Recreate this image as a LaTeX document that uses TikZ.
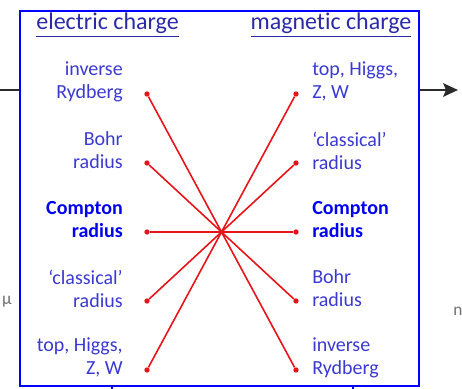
\documentclass[tikz,border=0pt]{standalone}
\usepackage{fontspec}
\setmainfont[Ligatures=NoCommon]{Carlito}
\usetikzlibrary{arrows.meta}
\definecolor{frameblue}{HTML}{0000FF}
\definecolor{ttlblue}{HTML}{2A2AA8}
\definecolor{itemblue}{HTML}{3A3AD2}
\definecolor{boldblue}{HTML}{0000EE}
\definecolor{linkred}{HTML}{E8141B}
\definecolor{arrgray}{HTML}{2B2B2B}
\definecolor{sidegray}{HTML}{707070}

\begin{document}
\begin{tikzpicture}[
  x=0.75pt,y=-0.75pt,>=Stealth,
  ttl/.style={font=\fontsize{18}{21}\selectfont, text=ttlblue, inner sep=0pt},
  litem/.style={font=\fontsize{15}{17.3}\selectfont, text=itemblue, align=right, anchor=east, inner sep=0pt},
  ritem/.style={font=\fontsize{15}{17.3}\selectfont, text=itemblue, align=left, anchor=west, inner sep=0pt},
  bitem/.style={font=\fontsize{15}{17.3}\selectfont\bfseries, text=boldblue},
  rdot/.style={circle, fill=linkred, inner sep=0pt, minimum size=4pt},
  link/.style={line width=1.2pt, color=linkred},
  chargebox/.style={draw=frameblue, line width=1.5pt, minimum width=299.25pt, minimum height=281.25pt, inner sep=0pt},
  sidetxt/.style={font=\fontsize{13}{15}\selectfont, text=sidegray, inner sep=0pt},
  sidearr/.style={line width=2.2pt, color=arrgray},
]
\useasboundingbox (0,0) rectangle (462,389);
% frame and the two column titles
\node[chargebox] (box) at (219.5,198.5) {};
\node[ttl] (ectitle) at (107.5,25) {\underline{electric charge}};
\node[ttl] (mctitle) at (331,25) {\underline{magnetic charge}};
% electric side
\node[litem] (lryd) at (123,81.5) {inverse\\Rydberg};
\node[litem] (lbohr) at (123,150.5) {Bohr\\radius};
\node[litem,bitem] (lcomp) at (123,219.5) {Compton\\radius};
\node[litem] (lclass) at (123,288.5) {‘classical’\\radius};
\node[litem] (ltop) at (123,357.5) {top, Higgs,\\Z, W};
% magnetic side
\node[ritem] (rtop) at (312,81.5) {top, Higgs,\\Z, W};
\node[ritem] (rclass) at (312,150.5) {‘classical’\\radius};
\node[ritem,bitem] (rcomp) at (312,219.5) {Compton\\radius};
\node[ritem] (rbohr) at (312,288.5) {Bohr\\radius};
\node[ritem] (rryd) at (312,357.5) {inverse\\Rydberg};
% end points
\node[rdot] (lrydd) at (147,94) {};\node[rdot] (lbohrd) at (147,163) {};\node[rdot] (lcompd) at (147,232) {};\node[rdot] (lclassd) at (147,301) {};\node[rdot] (ltopd) at (147,370) {};
\node[rdot] (rtopd) at (296,94) {};\node[rdot] (rclassd) at (296,163) {};\node[rdot] (rcompd) at (296,232) {};\node[rdot] (rbohrd) at (296,301) {};\node[rdot] (rrydd) at (296,370) {};
\draw[link] (lrydd)--(rrydd); \draw[link] (lbohrd)--(rbohrd); \draw[link] (lcompd)--(rcompd); \draw[link] (lclassd)--(rclassd); \draw[link] (ltopd)--(rtopd);
% in and out
\coordinate (inl) at (0,90); \coordinate (outr) at (458,90);
\draw[sidearr] (inl) -- (inl -| box.west);
\draw[sidearr,-{Stealth[length=11pt,width=10pt,inset=2pt]}] (outr -| box.east) -- (outr);
\coordinate (dl) at (112,390); \coordinate (dr) at (353,390);
\draw[line width=1.5pt,frameblue] (dl |- box.south) -- (dl);
\draw[line width=1.5pt,frameblue] (dr |- box.south) -- (dr);
\node[sidetxt] (mu) at (7,302) {μ};
\node[sidetxt] (nn) at (458,311) {n};
\end{tikzpicture}
\end{document}
